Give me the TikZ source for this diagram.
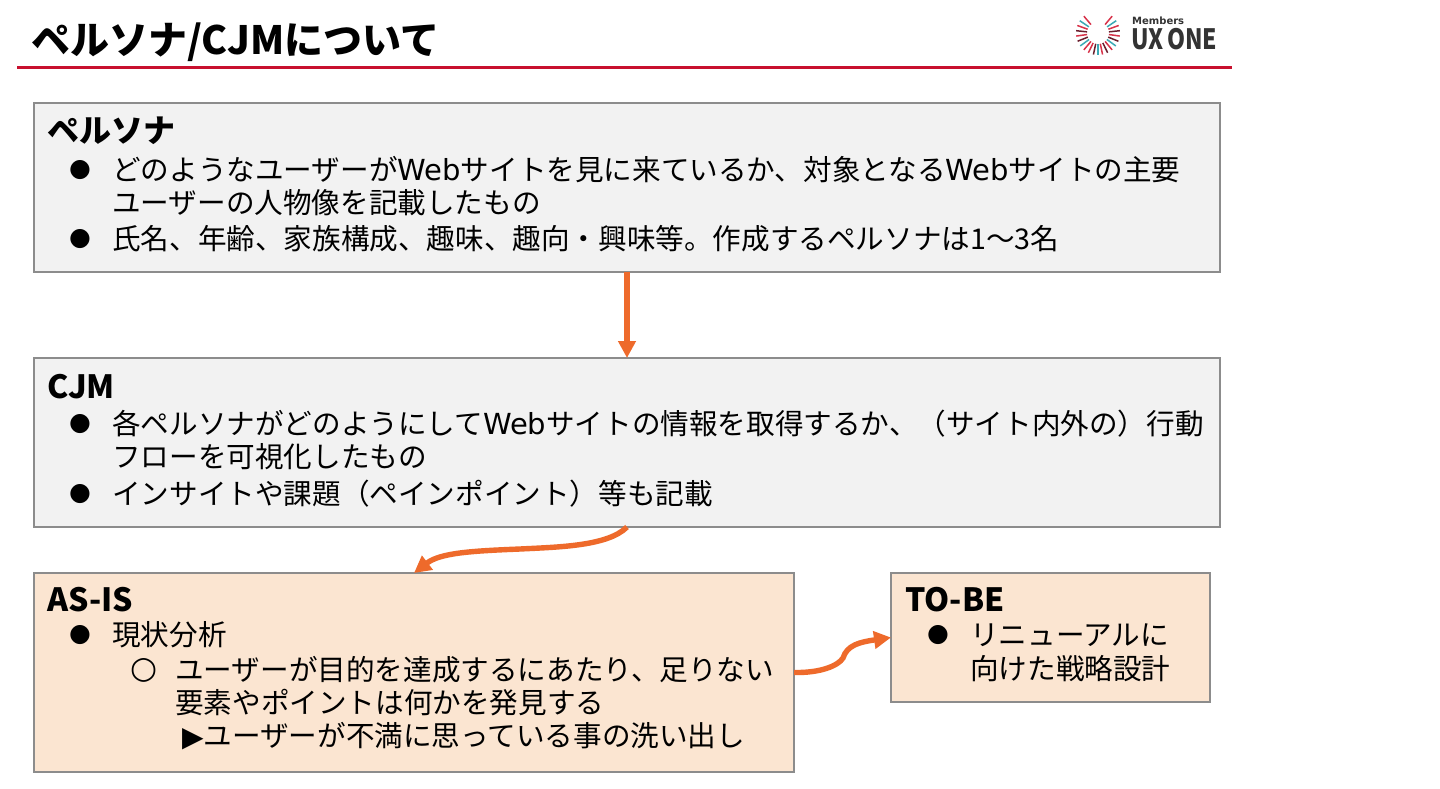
\documentclass[tikz,border=0pt]{standalone}
\usepackage{fontspec}
\setmainfont{Noto Sans CJK JP}
\newfontfamily\latinf{DejaVu Sans}
\newfontfamily\symf{DejaVu Sans}
\newcommand{\Wb}{{\latinf\fontsize{29}{29}\selectfont Web}}
\usetikzlibrary{arrows.meta}
\definecolor{boxgray}{HTML}{F2F2F2}
\definecolor{boxorange}{HTML}{FBE5D1}
\definecolor{edgegray}{HTML}{8C8C8C}
\definecolor{arroworange}{HTML}{EE6A2B}
\definecolor{rulered}{HTML}{C8102E}
\definecolor{logored}{HTML}{D8334A}
\definecolor{logoteal}{HTML}{3BA9B5}
\definecolor{logodark}{HTML}{6B1F2E}
\definecolor{logotext}{HTML}{333333}
\tikzset{
  x=1pt,y=-1pt,
  panel/.style={draw=edgegray,line width=1.3pt,anchor=north west,inner sep=0pt,outer sep=0pt},
  grayp/.style={panel,fill=boxgray},
  orangep/.style={panel,fill=boxorange},
  flow/.style={draw=arroworange,line width=5.4pt,-{Triangle[length=17pt,width=17pt]}},
  heading/.style={anchor=west,inner sep=0pt,font=\fontsize{32}{32}\selectfont\bfseries},
  line/.style={anchor=west,inner sep=0pt,font=\fontsize{28.6}{29}\selectfont},
  bullet/.style={anchor=center,inner sep=0pt,font=\fontsize{25}{25}\symf},
  lgt/.style={anchor=west,inner sep=0pt,text=logotext,font=\latinf\bfseries}
}
\begin{document}
\begin{tikzpicture}
\useasboundingbox (0,0) rectangle (1440,788);
\fill[white] (0,0) rectangle (1440,788);
% title
\node[anchor=west,inner sep=0pt,font=\fontsize{39}{39}\selectfont\bfseries] (title) at (31,42) {ペルソナ/CJMについて};
\coordinate (ruleL) at (17,67.5);
\coordinate (ruleR) at (1232,67.5);
\draw[rulered,line width=3pt] (ruleL) -- (ruleR);
% logo
\foreach \a/\c in {-50/logored,-34/logoteal,-20/logored,-6/logodark,8/logored,22/logodark,36/logoteal,50/logored,64/logodark,78/logored,90/logoteal,102/logodark,116/logored,130/logored,144/logoteal,158/logodark,172/logored,186/logodark,200/logored,214/logoteal,230/logored}{
  \draw[\c,line width=1.5pt] ({1098+11*cos(\a)},{33+11*sin(\a)}) -- ({1098+22*cos(\a)},{33+22*sin(\a)});
}
\node[lgt,font=\fontsize{10}{10}\latinf\bfseries] (lg1) at (1132,20.5) {Members};
\node[lgt,font=\fontsize{28}{28}\selectfont\bfseries,xscale=0.82,transform shape] (lg2) at (1131,39) {UX\,ONE};
% boxes
\node[grayp,minimum width=1186pt,minimum height=169pt] (persona) at (34,103) {};
\node[grayp,minimum width=1186pt,minimum height=169pt] (cjm) at (34,358) {};
\node[orangep,minimum width=760pt,minimum height=199pt] (asis) at (34,573) {};
\node[orangep,minimum width=319pt,minimum height=129pt] (tobe) at (891,573) {};
% arrows
\draw[flow] (persona.south) -- (cjm.north);
\draw[flow] (cjm.south) .. controls (608,546) and (560,547) .. (520,549) .. controls (470,551) and (440,553) .. (asis.north);
\draw[flow] (asis.east) .. controls (820,673) and (838,666) .. (843,658) .. controls (847,645) and (860,642) .. (tobe.west);
% persona text
\node[heading] (h1) at (47,131) {ペルソナ};
\node[bullet] (b1) at (80,170) {●};
\node[line] (t1) at (112,170) {どのようなユーザーが\Wb サイトを見に来ているか、対象となる\Wb サイトの主要};
\node[line] (t2) at (112,203) {ユーザーの人物像を記載したもの};
\node[bullet] (b2) at (80,239) {●};
\node[line] (t3) at (112,239) {氏名、年齢、家族構成、趣味、趣向・興味等。作成するペルソナは1～3名};
% cjm text
\node[heading] (h2) at (47,387) {CJM};
\node[bullet] (b3) at (80,424) {●};
\node[line] (t4) at (112,424) {各ペルソナがどのようにして\Wb サイトの情報を取得するか、（サイト内外の）行動};
\node[line] (t5) at (112,457) {フローを可視化したもの};
\node[bullet] (b4) at (80,494) {●};
\node[line] (t6) at (112,494) {インサイトや課題（ペインポイント）等も記載};
% as-is text
\node[heading] (h3) at (47,600) {AS-IS};
\node[bullet] (b5) at (80,635) {●};
\node[line] (t7) at (112,635) {現状分析};
\node[bullet,font=\fontsize{31}{31}\symf] (b6) at (144,670) {○};
\node[line] (t8) at (175,670) {ユーザーが目的を達成するにあたり、足りない};
\node[line] (t9) at (175,703) {要素やポイントは何かを発見する};
\node[line] (t10) at (182,736) {{\symf\fontsize{28}{28}\selectfont ▶}ユーザーが不満に思っている事の洗い出し};
% to-be text
\node[heading] (h4) at (905,600) {TO-BE};
\node[bullet] (b7) at (938,635) {●};
\node[line] (t11) at (970,635) {リニューアルに};
\node[line] (t12) at (970,669) {向けた戦略設計};
\end{tikzpicture}
\end{document}
